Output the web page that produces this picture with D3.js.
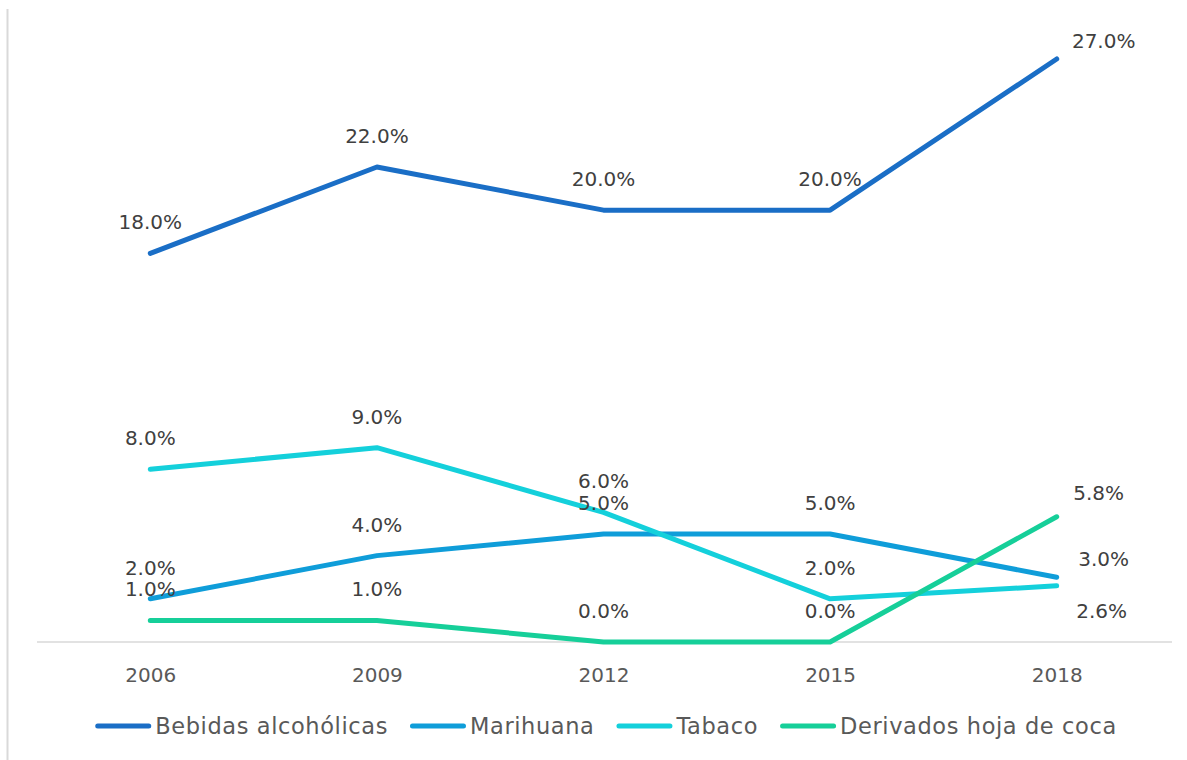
<!DOCTYPE html>
<html><head><meta charset="utf-8">
<script src="https://cdn.jsdelivr.net/npm/d3@7"></script>
<style>body{margin:0;background:#fff}svg{display:block}text{font-family:"DejaVu Sans",sans-serif}</style>
</head><body><svg id="c" width="1187" height="760"></svg>
<script>
const years = ["2006","2009","2012","2015","2018"];
const seriesNames = ["Bebidas alcohólicas","Marihuana","Tabaco","Derivados hoja de coca"];
const bebidas = [18.0,22.0,20.0,20.0,27.0];
const marihuana = [2.0,4.0,5.0,5.0,3.0];
const tabaco = [8.0,9.0,6.0,2.0,2.6];
const derivados = [1.0,1.0,0.0,0.0,5.8];
const colors = ["#1a6ec6","#0f9dd9","#14d0db","#16cf99"];
const series = [bebidas, marihuana, tabaco, derivados];

const svg = d3.select("#c");
const x = d3.scalePoint().domain(years).range([37,1170]).padding(0.5);
const y = d3.scaleLinear().domain([0,27]).range([642,59]);

// left border line
svg.append("line").attr("x1",7.5).attr("x2",7.5).attr("y1",9).attr("y2",760)
  .attr("stroke","#d9d9d9").attr("stroke-width",2);

// x axis
const ax = svg.append("g").attr("transform","translate(0,642)")
  .call(d3.axisBottom(x).tickSize(0).tickPadding(26));
ax.select(".domain").attr("d","M37,0H1172").attr("stroke","#d9d9d9").attr("stroke-width",1.5);
ax.selectAll("text").attr("font-size",20).attr("fill","#595959").style("font-family","DejaVu Sans");

const line = d3.line().x((d,i)=>x(years[i])).y(d=>y(d));
series.forEach((s,k)=>{
  svg.append("path").datum(s).attr("d",line).attr("fill","none")
    .attr("stroke",colors[k]).attr("stroke-width",5).attr("stroke-linecap","round").attr("stroke-linejoin","round");
});

// labels: default above; last point offset right
const lastOffsets = [[47,-11],[47,-11],[45,32],[42,-17]];
series.forEach((s,k)=>{
  s.forEach((v,i)=>{
    let dx=0, dy=-24;
    if(i===s.length-1){dx=lastOffsets[k][0]; dy=lastOffsets[k][1];}
    svg.append("text").attr("x",x(years[i])+dx).attr("y",y(v)+dy)
      .attr("text-anchor","middle").attr("font-size",20).attr("fill","#404040")
      .text(v.toFixed(1)+"%");
  });
});

// legend, laid out from measured widths and centred
const leg = svg.append("g");
let cx = 0;
seriesNames.forEach((n,k)=>{
  const g = leg.append("g").attr("transform",`translate(${cx},0)`);
  g.append("line").attr("x1",2.5).attr("x2",53.5).attr("y1",726).attr("y2",726)
    .attr("stroke",colors[k]).attr("stroke-width",5).attr("stroke-linecap","round");
  const t = g.append("text").attr("x",60).attr("y",734).attr("font-size",22.5)
    .attr("letter-spacing",0.6).attr("fill","#595959").text(n);
  cx += 60 + t.node().getComputedTextLength() + 22;
});
const total = cx - 22;
leg.attr("transform",`translate(${606 - total/2},0)`);
</script></body></html>
